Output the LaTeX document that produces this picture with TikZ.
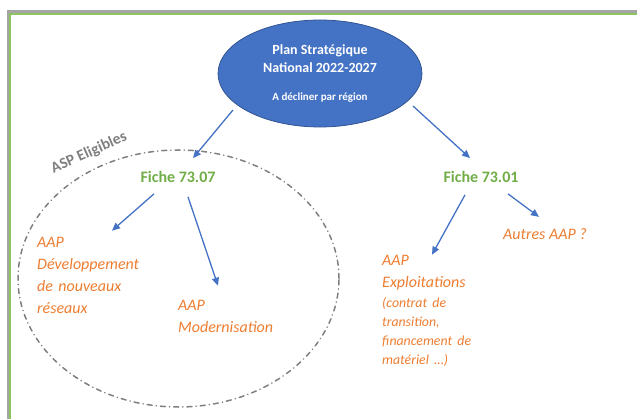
\documentclass[tikz,border=0pt]{standalone}
\usepackage{fontspec}
\setmainfont{Carlito}
\usetikzlibrary{arrows.meta,shapes.geometric,calc}
\definecolor{psnblue}{HTML}{4472C4}
\definecolor{psnedge}{HTML}{2F528F}
\definecolor{fgreen}{HTML}{70AD47}
\definecolor{aorange}{HTML}{ED7D31}
\definecolor{aspgrey}{HTML}{7F7F7F}
\definecolor{framegrey}{HTML}{A5A5A5}
\definecolor{framegreen}{HTML}{8DC363}
\begin{document}
\begin{tikzpicture}[x=1pt,y=-1pt,
  arr/.style={draw=psnblue, line width=1.3pt, -{Triangle[length=8pt,width=7pt]}},
  psnstyle/.style={shape=ellipse, fill=psnblue, draw=psnedge, line width=0.75pt,
    minimum width=204pt, minimum height=107pt, inner sep=0pt, text=white,
    align=center, font=\fontsize{14}{18}\selectfont\bfseries},
  fiche/.style={text=fgreen, font=\fontsize{16}{19}\selectfont\bfseries, inner sep=0pt},
  aap/.style={text=aorange, font=\fontsize{16}{22}\selectfont\itshape, inner sep=0pt,
    align=left, anchor=north west},
  aspstyle/.style={text=aspgrey, font=\fontsize{15.5}{18}\selectfont\bfseries, inner sep=0pt},
  grpstyle/.style={shape=ellipse, draw=aspgrey, line width=1.5pt, line cap=round,
    dash pattern=on 5pt off 4pt on 0.3pt off 4pt, inner sep=0pt,
    minimum width=321pt, minimum height=257pt}
]
\useasboundingbox (0,0) rectangle (637,419);
% frame
\fill[framegrey] (7,10) rectangle (637,13);
\fill[framegrey] (7,10) rectangle (9,419);
\fill[framegreen] (9,13) rectangle (637,15);
\fill[framegreen] (9,13) rectangle (10.5,419);

% group ellipse
\node[grpstyle] (grp) at (178.5,278.5) {};
\node[aspstyle, rotate=24] (asp) at (89,153) {ASP Eligibles};

% main ellipse
\node[psnstyle] (psn) at (320,73.5)
  {Plan Stratégique\\National 2022-2027\\[10pt]{\fontsize{11}{13}\selectfont A décliner par région}};

% fiches
\node[fiche] (f07) at (178,177) {Fiche 73.07};
\node[fiche] (f01) at (481,177) {Fiche 73.01};

% AAP texts
\node[aap, text width=125pt] (dev) at (37,236.7) {AAP\\Développement\\de nouveaux\\réseaux};
\node[aap, text width=115pt] (mod) at (178,299.7) {AAP\\Modernisation};
\node[aap, text width=110pt] (exp) at (382,254.7)
  {AAP\\Exploitations\par\vspace{1pt}%
   {\fontsize{13.8}{19}\selectfont (contrat de\\transition,\\financement de\\matériel …)\par}};
\node[aap, anchor=base west] (aut) at (503,240) {Autres AAP ?};

% arrows
\draw[arr] ([shift={(-87,36.5)}]psn.center) -- ([shift={(15,-13)}]f07.north);
\draw[arr] ([shift={(93,32.5)}]psn.center) -- ([shift={(-11,-13)}]f01.north);
\draw[arr] ([shift={(-24,11)}]f07.south) -- ([shift={(75,-6)}]dev.north west);
\draw[arr] ([shift={(10,14)}]f07.south) -- ([shift={(40,-14)}]mod.north west);
\draw[arr] ([shift={(-16,12)}]f01.south) -- ([shift={(50,0)}]exp.north west);
\draw[arr] ([shift={(27,11)}]f01.south) -- ([shift={(36,-12)}]aut.north west);
\end{tikzpicture}
\end{document}
